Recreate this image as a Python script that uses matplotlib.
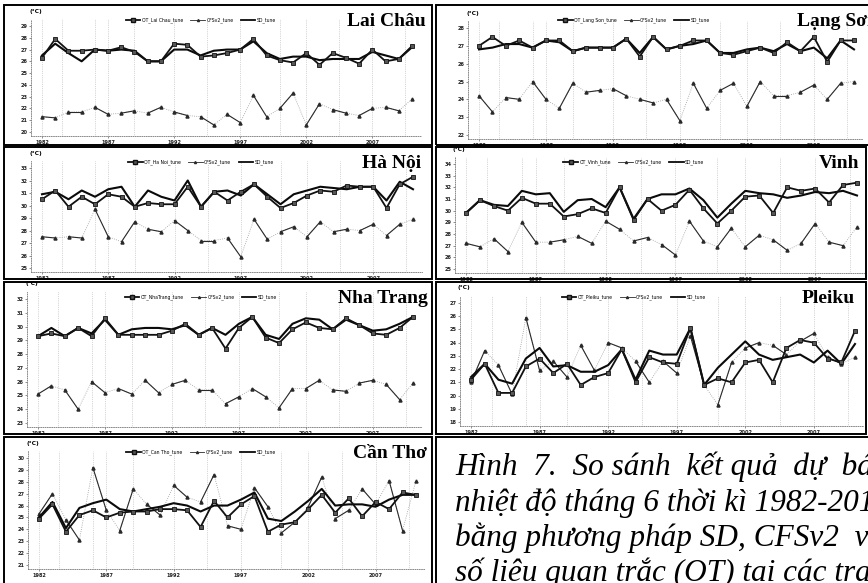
import matplotlib
matplotlib.use("Agg")
import matplotlib.pyplot as plt
from matplotlib.patches import Rectangle
from matplotlib.lines import Line2D

W, H = 868, 583
years = list(range(1982, 2011))
xtick_years = [1982, 1987, 1992, 1997, 2002, 2007]

# ---- data (June temperature, degC) ----
laichau_ot = [26.3, 27.9, 26.9, 26.9, 27.0, 26.9, 27.2, 26.8, 26.0, 26.0, 27.5, 27.4, 26.4, 26.5, 26.7,
              27.0, 27.9, 26.5, 26.1, 25.9, 26.7, 25.7, 26.7, 26.3, 25.8, 27.0, 26.0, 26.2, 27.3]
laichau_sd = [26.5, 27.5, 26.7, 26.0, 27.0, 26.9, 27.0, 26.9, 26.0, 26.0, 27.0, 27.0, 26.5, 26.9, 27.0,
              27.0, 27.7, 26.7, 26.2, 26.4, 26.4, 26.1, 26.2, 26.2, 26.2, 26.8, 26.5, 26.2, 27.2]
laichau_cfs = [21.3, 21.2, 21.7, 21.7, 22.1, 21.5, 21.6, 21.8, 21.6, 22.1, 21.7, 21.4, 21.3, 20.6, 21.5,
               20.8, 23.1, 21.3, 22.0, 23.3, 20.6, 22.4, 21.9, 21.6, 21.4, 22.0, 22.1, 21.8, 22.8]
laichau_ticks = [20, 21, 22, 23, 24, 25, 26, 27, 28, 29]

langson_ot = [27.0, 27.5, 27.0, 27.3, 26.9, 27.3, 27.3, 26.7, 26.9, 26.9, 26.9, 27.4, 26.4, 27.5, 26.8,
              27.0, 27.3, 27.3, 26.6, 26.5, 26.7, 26.9, 26.6, 27.2, 26.7, 27.5, 26.1, 27.3, 27.3]
langson_sd = [26.8, 26.9, 27.1, 27.1, 26.9, 27.3, 27.2, 26.7, 26.9, 26.9, 26.9, 27.4, 26.6, 27.5, 26.8,
              27.0, 27.1, 27.3, 26.6, 26.6, 26.8, 26.9, 26.7, 27.1, 26.7, 26.9, 26.3, 27.3, 26.8]
langson_cfs = [24.2, 23.3, 24.1, 24.0, 25.0, 24.0, 23.5, 24.9, 24.4, 24.5, 24.6, 24.2, 24.0, 23.8, 24.0,
               22.8, 24.9, 23.5, 24.5, 24.9, 23.6, 25.0, 24.2, 24.2, 24.4, 24.8, 24.0, 24.9, 25.0]
langson_ticks = [22, 23, 24, 25, 26, 27, 28]

hanoi_ot = [30.5, 31.2, 29.9, 30.7, 30.1, 30.9, 30.7, 29.9, 30.2, 30.1, 30.1, 31.5, 29.9, 31.1, 30.4,
            31.1, 31.7, 30.7, 29.8, 30.2, 30.8, 31.2, 31.1, 31.6, 31.5, 31.5, 29.8, 31.7, 32.3]
hanoi_sd = [30.9, 31.1, 30.5, 31.2, 30.7, 31.3, 31.5, 29.9, 31.2, 30.7, 30.4, 32.0, 29.9, 31.1, 31.2,
            30.8, 31.7, 30.9, 30.1, 30.9, 31.2, 31.5, 31.4, 31.3, 31.5, 31.5, 30.4, 31.9, 31.3]
hanoi_cfs = [27.5, 27.4, 27.5, 27.4, 29.7, 27.5, 27.1, 28.7, 28.1, 27.9, 28.8, 28.0, 27.2, 27.2, 27.4,
             25.9, 28.9, 27.3, 27.9, 28.3, 27.5, 28.7, 27.9, 28.1, 28.0, 28.5, 27.6, 28.5, 28.9]
hanoi_ticks = [25, 26, 27, 28, 29, 30, 31, 32, 33]

vinh_ot = [29.8, 30.9, 30.4, 30.0, 31.1, 30.6, 30.6, 29.5, 29.7, 30.2, 29.8, 32.0, 29.2, 31.0, 30.0,
           30.5, 31.8, 30.2, 28.9, 30.0, 31.2, 31.3, 29.8, 32.0, 31.7, 31.9, 30.7, 32.2, 32.4]
vinh_sd = [29.8, 30.9, 30.5, 30.4, 31.7, 31.4, 31.5, 29.9, 30.9, 31.0, 30.3, 32.0, 29.3, 31.0, 31.4,
           31.4, 31.9, 30.9, 29.4, 30.6, 31.7, 31.5, 31.4, 31.1, 31.3, 31.6, 31.5, 31.7, 31.3]
vinh_cfs = [27.2, 26.9, 27.6, 26.5, 29.0, 27.3, 27.3, 27.5, 27.8, 27.2, 29.1, 28.4, 27.4, 27.7, 27.1,
            26.2, 29.1, 27.4, 26.9, 28.5, 26.9, 27.9, 27.5, 26.6, 27.2, 28.9, 27.3, 27.0, 28.6]
vinh_ticks = [25, 26, 27, 28, 29, 30, 31, 32, 33, 34]

nhatrang_ot = [29.3, 29.5, 29.3, 29.9, 29.3, 30.6, 29.4, 29.4, 29.4, 29.4, 29.7, 30.2, 29.4, 29.9, 28.4,
               29.9, 30.7, 29.2, 28.8, 29.8, 30.3, 29.9, 29.8, 30.6, 30.1, 29.5, 29.4, 29.9, 30.7]
nhatrang_sd = [29.3, 29.9, 29.3, 29.9, 29.5, 30.5, 29.4, 29.8, 29.9, 29.9, 29.8, 30.1, 29.4, 29.9, 29.4,
               30.2, 30.7, 29.4, 29.1, 30.2, 30.6, 30.5, 29.8, 30.5, 30.1, 29.7, 29.8, 30.2, 30.7]
nhatrang_cfs = [25.1, 25.7, 25.4, 24.0, 26.0, 25.2, 25.5, 25.1, 26.1, 25.2, 25.8, 26.1, 25.4, 25.4, 24.4,
                24.9, 25.5, 24.9, 24.1, 25.5, 25.5, 26.1, 25.4, 25.3, 25.9, 26.1, 25.8, 24.7, 25.9]
nhatrang_ticks = [23, 24, 25, 26, 27, 28, 29, 30, 31, 32]

pleiku_ot = [21.2, 22.4, 20.2, 20.2, 22.2, 22.8, 21.7, 22.4, 20.8, 21.4, 21.7, 23.5, 21.0, 22.9, 22.5,
             22.4, 25.1, 20.8, 21.3, 21.0, 22.5, 22.7, 21.0, 23.6, 24.2, 24.0, 22.8, 22.5, 24.9]
pleiku_sd = [21.4, 22.4, 21.2, 20.9, 22.8, 23.6, 22.2, 22.3, 21.8, 21.8, 22.3, 23.5, 21.2, 23.4, 23.1,
             23.1, 25.1, 20.8, 22.1, 23.1, 24.1, 23.1, 22.7, 22.9, 23.1, 22.5, 23.4, 22.4, 23.9]
pleiku_cfs = [21.0, 23.4, 22.3, 20.1, 25.9, 21.9, 22.6, 21.4, 23.8, 21.9, 24.0, 23.6, 22.6, 21.0, 22.6,
              21.7, 24.5, 20.8, 19.3, 22.5, 23.6, 24.0, 23.8, 23.1, 24.1, 24.7, 22.9, 22.4, 22.9]
pleiku_ticks = [18, 19, 20, 21, 22, 23, 24, 25, 26, 27]

cantho_ot = [24.9, 26.1, 23.8, 25.2, 25.6, 25.0, 25.4, 25.5, 25.5, 25.7, 25.7, 25.6, 24.2, 26.4, 25.0,
             26.1, 26.8, 23.8, 24.4, 24.6, 25.7, 26.9, 25.4, 26.6, 25.1, 26.3, 25.7, 27.1, 26.9]
cantho_sd = [25.0, 26.3, 24.1, 25.8, 26.2, 26.5, 25.7, 25.5, 25.7, 25.9, 26.2, 26.0, 25.5, 26.0, 26.0,
             26.5, 27.1, 24.9, 24.7, 25.5, 26.4, 27.4, 26.0, 26.1, 26.1, 25.9, 26.5, 26.9, 26.9]
cantho_cfs = [25.3, 27.0, 24.8, 23.1, 29.2, 25.6, 23.9, 27.4, 26.1, 25.2, 27.7, 26.7, 26.3, 28.6, 24.3,
              24.0, 27.5, 25.9, 23.7, 24.6, 25.9, 28.4, 24.9, 25.6, 27.4, 26.1, 28.1, 23.9, 28.1]
cantho_ticks = [21, 22, 23, 24, 25, 26, 27, 28, 29, 30]

# first line is justified in the source, hence the wider gaps
caption_lines = [
    "Hình  7.  So sánh  kết quả  dự  báo",
    "nhiệt độ tháng 6 thời kì 1982-2010",
    "bằng phương pháp SD, CFSv2  và",
    "số liệu quan trắc (OT) tại các trạm",
]

# name, legend name, data, ticks, frame box (px), title right edge, x of 1982, x of 2010,
# y of top tick, y of bottom tick
panels = [
    ("Lai Châu", "Lai Chau", laichau_ot, laichau_sd, laichau_cfs, laichau_ticks,
     (4, 5, 432, 145), 426, 42, 412, 26, 132),
    ("Lạng Sơn", "Lang Son", langson_ot, langson_sd, langson_cfs, langson_ticks,
     (436, 5, 872, 145), 878, 479, 854, 28, 135),
    ("Hà Nội", "Ha Noi", hanoi_ot, hanoi_sd, hanoi_cfs, hanoi_ticks,
     (4, 147, 432, 279), 421, 42, 413, 168, 268),
    ("Vinh", "Vinh", vinh_ot, vinh_sd, vinh_cfs, vinh_ticks,
     (436, 147, 866, 279), 859, 466, 857, 164, 269),
    ("Nha Trang", "NhaTrang", nhatrang_ot, nhatrang_sd, nhatrang_cfs, nhatrang_ticks,
     (4, 282, 432, 434), 428, 38, 413, 299, 423),
    ("Pleiku", "Pleiku", pleiku_ot, pleiku_sd, pleiku_cfs, pleiku_ticks,
     (436, 282, 866, 434), 855, 471, 855, 303, 422),
    ("Cần Thơ", "Can Tho", cantho_ot, cantho_sd, cantho_cfs, cantho_ticks,
     (4, 437, 432, 590), 427, 39, 416, 458, 565),
]

serif = ["Liberation Serif", "DejaVu Serif"]

fig = plt.figure(figsize=(W / 100, H / 100), dpi=100)
fig.patch.set_facecolor("white")


def fx(px):
    return px / W


def fy(py):
    return 1 - py / H


for (name, leg_name, ot, sd, cfs, ticks, frame, title_r, x0, x1, yt, yb) in panels:
    # panel frame
    l, t, r, b = frame
    fig.add_artist(Rectangle((fx(l), fy(b)), fx(r - l), (b - t) / H, transform=fig.transFigure,
                             fill=False, edgecolor="black", linewidth=1.4))

    # axes placed so 1982/2010 and the outer ticks land on the right pixels
    lpad, rpad, tpad, bpad = 11, 9, 7, 4
    ax = fig.add_axes([fx(x0 - lpad), fy(yb + bpad), fx(x1 - x0 + lpad + rpad),
                       (yb - yt + tpad + bpad) / H])
    ppx = (x1 - x0) / (years[-1] - years[0])
    ax.set_xlim(years[0] - lpad / ppx, years[-1] + rpad / ppx)
    vpp = (ticks[-1] - ticks[0]) / (yb - yt)
    ax.set_ylim(ticks[0] - bpad * vpp, ticks[-1] + tpad * vpp)

    # CFSv2: faint dotted line, every other segment darker (as in the scan)
    ax.plot(years, cfs, color="#9a9a9a", lw=0.6, ls=":", zorder=2)
    for i in range(0, len(years) - 1, 2):
        ax.plot(years[i:i + 2], cfs[i:i + 2], color="#2a2a2a", lw=0.8, zorder=2)
    ax.plot(years, cfs, ls="none", marker="^", ms=2.2, color="#2a2a2a", zorder=3)

    ax.plot(years, sd, color="#0a0a0a", lw=1.5, zorder=4)
    ax.plot(years, ot, color="#111111", lw=1.3, marker="s", ms=3.4,
            mfc="#555555", mec="#111111", mew=0.6, zorder=5)

    ax.set_yticks(ticks)
    ax.set_yticklabels([str(v) for v in ticks])
    ax.set_xticks(xtick_years)
    ax.set_xticklabels([str(v) for v in xtick_years])
    ax.set_xticks([1983.5, 1986, 1989, 1992, 1994.5, 1997, 2000, 2002, 2004.5, 2007, 2009.5], minor=True)
    ax.tick_params(axis="both", labelsize=3.6, length=1.5, width=0.5, color="#666666",
                   labelcolor="#222222", pad=1.2)
    ax.tick_params(axis="both", which="minor", length=0)
    for lab in ax.get_xticklabels() + ax.get_yticklabels():
        lab.set_fontweight("bold")
    ax.grid(True, axis="x", which="minor", ls=":", lw=0.5, color="#b0b0b0")
    ax.grid(True, axis="x", which="major", ls=":", lw=0.5, color="#b0b0b0")
    for side in ["top", "right"]:
        ax.spines[side].set_visible(False)
    for side in ["left", "bottom"]:
        ax.spines[side].set_linestyle(":")
        ax.spines[side].set_linewidth(0.6)
        ax.spines[side].set_color("#777777")
    ax.patch.set_alpha(0)

    ax.text(-0.005, 1.0 + 8 / (yb - yt + tpad + bpad), "(°C)", transform=ax.transAxes,
            fontsize=4.2, fontweight="bold", ha="left", va="center")

    handles = [
        Line2D([], [], color="#111111", lw=1.3, marker="s", ms=2.5, mfc="#555555", mec="#111111"),
        Line2D([], [], color="#2a2a2a", lw=0.6, marker="^", ms=1.5),
        Line2D([], [], color="#0a0a0a", lw=1.3),
    ]
    labels = [f"OT_{leg_name}_tune", "CFSv2_tune", "SD_tune"]
    fig.legend(handles, labels, loc="center", ncol=3, frameon=False, fontsize=3.3,
               handlelength=3.2, columnspacing=1.6, handletextpad=0.3,
               bbox_to_anchor=(fx(l + 0.46 * min(r - l, 430)), fy(t + 15)))

    fig.text(fx(title_r), fy(t + 17), name, fontsize=14, fontweight="bold",
             family=serif, ha="right", va="center")

# caption panel (bottom right)
fig.add_artist(Rectangle((fx(436), fy(590)), fx(440), 153 / H, transform=fig.transFigure,
                         fill=False, edgecolor="black", linewidth=1.4))
for i, line in enumerate(caption_lines):
    fig.text(fx(455), fy(475 + 35.5 * i), line, fontsize=22.5, style="italic",
             family=serif, ha="left", va="baseline")

fig.savefig("out.png", dpi=100, facecolor="white")
